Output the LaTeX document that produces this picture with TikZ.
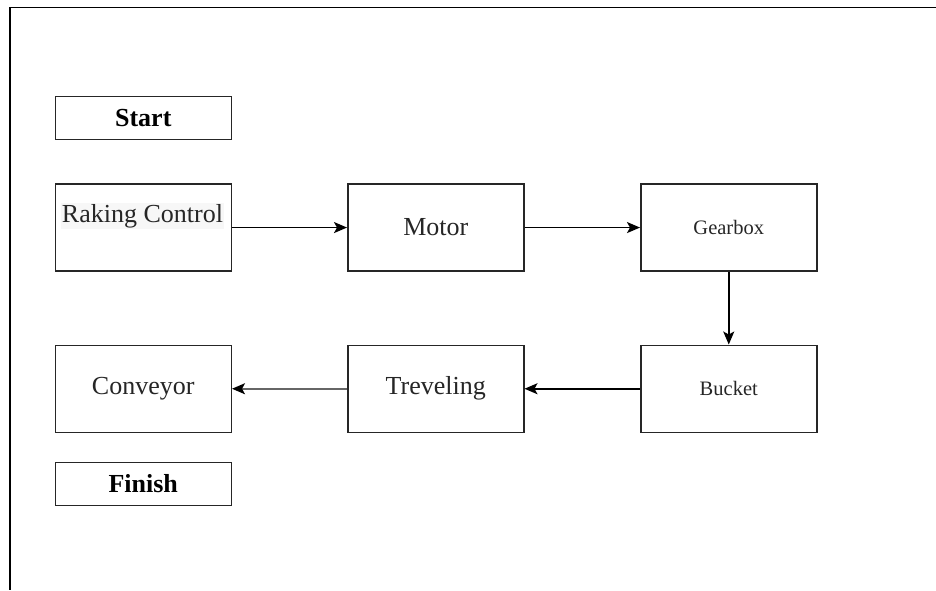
\documentclass[tikz,border=0pt]{standalone}
\usepackage{fontspec}
\setmainfont{Liberation Serif}
\usetikzlibrary{arrows.meta}
\begin{document}
\begin{tikzpicture}[x=1pt,y=-1pt,
  box/.style={draw=black!85,line width=1.5pt,minimum width=176pt,inner sep=0pt,anchor=north west},
  bigbox/.style={box,minimum height=87pt},
  smallbox/.style={box,minimum height=43pt},
  bigtxt/.style={font=\fontsize{26}{30}\selectfont,text=black!85},
  medtxt/.style={font=\fontsize{20.5}{24}\selectfont,text=black!85},
  boldtxt/.style={font=\fontsize{26}{30}\selectfont\bfseries},
  conn/.style={line width=1.5pt,-{Stealth[length=13pt,width=11pt,inset=3pt,color=black]}}]
\useasboundingbox (0,0) rectangle (936,590);
\fill[white] (0,0) rectangle (936,590);
\coordinate (tl) at (10,7.3);
\coordinate (tr) at (936,7.3);
\coordinate (bl) at (10,590);
\draw[line width=1.5pt] (tr) -- (tl) -- (bl);
\node[smallbox,boldtxt] (start) at (54.5,95.5) {Start};
\node[bigbox] (rak) at (54.5,183.3) {};
\node[bigtxt,fill=black!3,inner sep=1pt] (raktxt) at (142.5,216) {Raking Control};
\node[bigbox,bigtxt] (motor) at (347,183.3) {Motor};
\node[bigbox,medtxt] (gear) at (640,183.3) {Gearbox};
\node[bigbox,bigtxt] (conv) at (54.5,344.5) {Conveyor};
\node[bigbox,bigtxt] (trev) at (347,344.5) {Treveling};
\node[bigbox,medtxt] (buck) at (640,344.5) {Bucket};
\node[smallbox,boldtxt] (finish) at (54.5,461.5) {Finish};
\draw[conn] (rak) -- (motor);
\draw[conn] (motor) -- (gear);
\draw[conn] (gear) -- (buck);
\draw[conn] (buck) -- (trev);
\draw[conn,draw=black!60] (trev) -- (conv);
\end{tikzpicture}
\end{document}
